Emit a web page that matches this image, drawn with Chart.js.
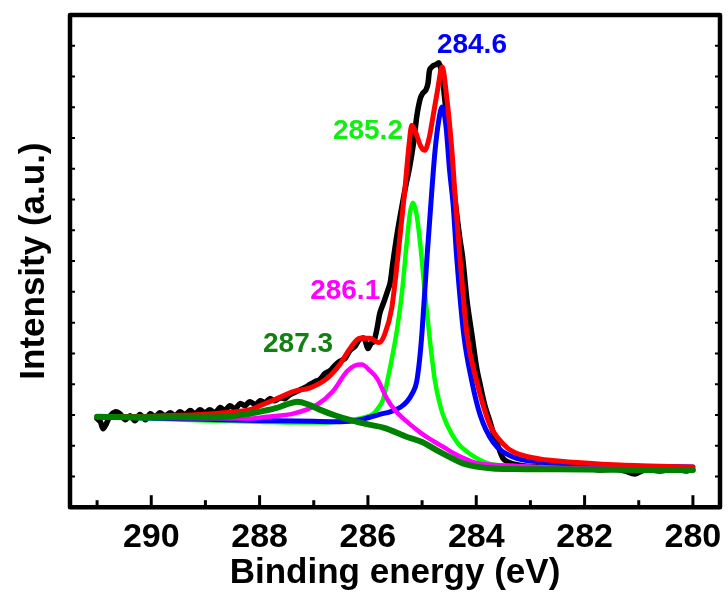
<!DOCTYPE html>
<html>
<head>
<meta charset="utf-8">
<script src="https://cdn.jsdelivr.net/npm/chart.js@4.4.1/dist/chart.umd.min.js"></script>
<style>
  html, body { margin: 0; padding: 0; background: #fff; }
  #wrap { width: 728px; height: 595px; }
</style>
</head>
<body>
<div id="wrap"><canvas id="xpsChart" width="728" height="595"></canvas></div>
<script>
// C 1s spectrum: binding energy (eV) and intensity (a.u.)

// raw measured spectrum (black, noisy)
const rawEnergy = [291.00, 290.94, 290.89, 290.83, 290.76, 290.67, 290.58, 290.48, 290.39, 290.30,
  290.21, 290.11, 290.02, 289.93, 289.84, 289.75, 289.65, 289.56, 289.47, 289.38,
  289.28, 289.19, 289.10, 289.01, 288.92, 288.82, 288.73, 288.64, 288.55, 288.45,
  288.36, 288.27, 288.18, 288.08, 287.99, 287.90, 287.81, 287.72, 287.62, 287.53,
  287.44, 287.35, 287.25, 287.16, 287.07, 286.98, 286.89, 286.79, 286.70, 286.61,
  286.52, 286.42, 286.33, 286.24, 286.15, 286.07, 286.00, 285.94, 285.89, 285.83,
  285.78, 285.70, 285.65, 285.59, 285.54, 285.46, 285.37, 285.30, 285.23, 285.15,
  285.10, 285.04, 284.99, 284.93, 284.89, 284.86, 284.80, 284.75, 284.69, 284.63,
  284.58, 284.52, 284.47, 284.39, 284.30, 284.25, 284.17, 284.08, 283.99, 283.93,
  283.84, 283.75, 283.69, 283.60, 283.51, 283.42, 283.32, 283.10, 282.83, 282.55,
  282.27, 281.99, 281.72, 281.44, 281.26, 281.07, 280.89, 280.61, 280.34, 280.11, 280.02];
const rawIntensity = [2.88, 2.78, 2.55, 2.71, 2.97, 3.10, 3.04, 2.84, 2.97, 2.81,
  3.01, 2.84, 3.04, 2.94, 3.07, 2.97, 3.07, 2.97, 3.10, 3.01,
  3.14, 3.04, 3.17, 3.07, 3.17, 3.07, 3.24, 3.14, 3.30, 3.20,
  3.37, 3.30, 3.43, 3.33, 3.46, 3.40, 3.53, 3.46, 3.56, 3.53,
  3.66, 3.73, 3.82, 3.89, 3.99, 4.08, 4.15, 4.35, 4.44, 4.61,
  4.74, 4.84, 5.10, 5.23, 5.46, 5.49, 5.16, 5.33, 5.39, 5.82,
  6.31, 6.70, 6.96, 7.29, 7.94, 8.89, 9.80, 10.46, 11.05, 11.93,
  12.68, 13.24, 13.45, 13.56, 13.79, 14.22, 14.35, 14.38, 14.44, 14.05,
  13.24, 12.42, 11.40, 9.97, 8.70, 8.10, 6.70, 5.60, 4.50, 4.00,
  3.30, 2.80, 2.45, 2.00, 1.60, 1.47, 1.41, 1.34, 1.31, 1.27,
  1.24, 1.27, 1.21, 1.24, 1.18, 1.08, 1.21, 1.18, 1.24, 1.18, 1.24];

// fitted envelope (red)
const envelopeEnergy = [291.0, 290.0, 289.1, 288.6, 288.18, 287.99, 287.68, 287.38, 287.07, 286.76,
  286.52, 286.33, 286.15, 285.96, 285.80, 285.69, 285.56, 285.45, 285.32, 285.24,
  285.19, 285.12, 285.03, 284.95, 284.87, 284.80, 284.71, 284.63, 284.54, 284.45,
  284.39, 284.30, 284.17, 283.99, 283.75, 283.50, 283.32, 282.83, 282.59, 281.35, 280.0];
const envelopeIntensity = [2.94, 2.96, 3.01, 3.08, 3.17, 3.30, 3.53, 3.76, 3.88, 4.18,
  4.64, 5.16, 5.49, 5.49, 5.35, 5.62, 6.47, 8.10, 10.29, 11.8,
  12.42, 12.2, 11.75, 11.60, 12.0, 12.68, 13.6, 14.31, 13.24, 11.60,
  10.1, 8.10, 5.60, 4.08, 2.68, 2.05, 1.80, 1.57, 1.52, 1.37, 1.31];

// component at 284.6 eV (blue)
const peak2846Energy = [291.0, 290.0, 289.0, 288.0, 287.0, 286.5, 286.15, 285.78, 285.59, 285.4,
  285.28, 285.18, 285.10, 285.04, 285.00, 284.91, 284.82, 284.76, 284.69, 284.63,
  284.56, 284.49, 284.43, 284.36, 284.23, 284.08, 283.93, 283.69, 283.32, 282.83, 281.96, 280.0];
const peak2846Intensity = [2.94, 2.90, 2.86, 2.82, 2.79, 2.78, 2.84, 3.02, 3.10, 3.25,
  3.43, 3.70, 4.08, 4.90, 5.72, 8.10, 10.29, 11.6, 12.6, 13.01,
  12.4, 10.9, 9.9, 8.10, 5.6, 4.08, 3.01, 2.12, 1.63, 1.47, 1.37, 1.31];

// component at 285.2 eV (light green)
const peak2852Energy = [291.0, 290.0, 289.0, 288.0, 287.3, 286.8, 286.4, 286.1, 285.9, 285.8,
  285.72, 285.63, 285.55, 285.46, 285.37, 285.28, 285.22, 285.17, 285.11, 285.04,
  284.95, 284.86, 284.76, 284.65, 284.54, 284.35, 284.17, 283.95, 283.75, 283.32, 282.5, 281.0, 280.0];
const peak2852Intensity = [2.94, 2.88, 2.82, 2.78, 2.75, 2.75, 2.82, 2.90, 3.04, 3.25,
  3.5, 4.2, 4.9, 5.8, 7.0, 8.66, 9.6, 9.9, 9.6, 8.66,
  7.0, 5.5, 4.08, 3.2, 2.68, 2.1, 1.8, 1.55, 1.41, 1.34, 1.28, 1.24, 1.22];

// component at 286.1 eV (magenta)
const peak2861Energy = [291.0, 290.0, 289.0, 288.18, 287.86, 287.38, 286.94, 286.65, 286.39, 286.25,
  286.11, 285.97, 285.83, 285.65, 285.50, 285.28, 285.05, 284.86, 284.60, 284.36,
  283.93, 283.32, 282.5, 281.0, 280.0];
const peak2861Intensity = [2.94, 2.91, 2.89, 2.88, 2.94, 3.04, 3.33, 3.76, 4.41, 4.60,
  4.64, 4.45, 4.18, 3.53, 3.15, 2.78, 2.45, 2.22, 1.95, 1.70,
  1.41, 1.35, 1.28, 1.23, 1.22];

// component at 287.3 eV (dark green)
const peak2873Energy = [291.0, 290.0, 289.0, 288.5, 288.2, 287.9, 287.7, 287.5, 287.3, 287.1,
  286.9, 286.6, 286.3, 286.0, 285.7, 285.3, 285.0, 284.7, 284.4, 284.2,
  284.0, 283.7, 283.3, 282.5, 281.0, 280.0];
const peak2873Intensity = [2.94, 2.92, 2.92, 2.96, 3.04, 3.14, 3.22, 3.34, 3.43, 3.34,
  3.18, 2.98, 2.82, 2.69, 2.58, 2.30, 2.12, 1.82, 1.55, 1.40,
  1.32, 1.26, 1.24, 1.23, 1.21, 1.21];

// axis ticks
const xTickValues = [280, 281, 282, 283, 284, 285, 286, 287, 288, 289, 290, 291];
const yTickValues = [1, 2, 3, 4, 5, 6, 7, 8, 9, 10, 11, 12, 13, 14, 15];

// peak position labels
const peakLabels = ['287.3', '286.1', '285.2', '284.6'];

const toPoints = (xs, ys) => xs.map((x, i) => ({ x: x, y: ys[i] }));

// Draws the box frame, the inward tick marks and the peak labels
const framePlugin = {
    id: 'framePlugin',
    afterDraw(chart, args, opts) {
        const { ctx, chartArea: a, scales: { x, y } } = chart;
        ctx.save();
        ctx.strokeStyle = '#000';
        ctx.lineCap = 'butt';

        // bottom ticks point up into the plot
        ctx.lineWidth = 3;
        xTickValues.forEach(v => {
            const px = x.getPixelForValue(v);
            const len = v % 2 === 0 ? 12 : 7;
            ctx.beginPath();
            ctx.moveTo(px, a.bottom);
            ctx.lineTo(px, a.bottom - len);
            ctx.stroke();
        });

        // left and right ticks
        ctx.lineWidth = 2;
        yTickValues.forEach(v => {
            const py = y.getPixelForValue(v);
            ctx.beginPath();
            ctx.moveTo(a.left, py);
            ctx.lineTo(a.left + 5, py);
            ctx.moveTo(a.right, py);
            ctx.lineTo(a.right - 5, py);
            ctx.stroke();
        });

        ctx.lineWidth = 4.5;
        ctx.lineJoin = 'round';
        ctx.strokeRect(a.left, a.top, a.width, a.height);

        // peak labels
        ctx.font = 'bold 28px "Liberation Sans", Arial, sans-serif';
        ctx.textAlign = 'center';
        ctx.textBaseline = 'middle';
        peakLabels.forEach((txt, i) => {
            const pos = opts.positions[i];
            ctx.fillStyle = opts.colors[i];
            ctx.fillText(txt, x.getPixelForValue(pos[0]), y.getPixelForValue(pos[1]));
        });
        ctx.restore();
    }
};

const ctx = document.getElementById('xpsChart').getContext('2d');

const xpsChart = new Chart(ctx, {
    type: 'line',
    data: {
        datasets: [
            {
                label: '287.3',
                data: toPoints(peak2873Energy, peak2873Intensity),
                borderColor: '#008000',
                borderWidth: 6,
                cubicInterpolationMode: 'monotone',
                order: 1
            },
            {
                label: '286.1',
                data: toPoints(peak2861Energy, peak2861Intensity),
                borderColor: '#ff00ff',
                borderWidth: 4.5,
                cubicInterpolationMode: 'monotone',
                order: 2
            },
            {
                label: 'Fit',
                data: toPoints(envelopeEnergy, envelopeIntensity),
                borderColor: '#ff0000',
                borderWidth: 5,
                cubicInterpolationMode: 'monotone',
                order: 3
            },
            {
                label: '284.6',
                data: toPoints(peak2846Energy, peak2846Intensity),
                borderColor: '#0000ff',
                borderWidth: 5,
                cubicInterpolationMode: 'monotone',
                order: 4
            },
            {
                label: '285.2',
                data: toPoints(peak2852Energy, peak2852Intensity),
                borderColor: '#00ff00',
                borderWidth: 4.5,
                cubicInterpolationMode: 'monotone',
                order: 5
            },
            {
                label: 'Raw',
                data: toPoints(rawEnergy, rawIntensity),
                borderColor: '#000000',
                borderWidth: 5.5,
                tension: 0.3,
                order: 6
            }
        ]
    },
    options: {
        responsive: false,
        devicePixelRatio: 1,
        animation: false,
        layout: {
            padding: { left: 9, right: 8, top: 15, bottom: 0 }
        },
        elements: {
            point: { radius: 0 },
            line: { borderJoinStyle: 'round', borderCapStyle: 'round', fill: false }
        },
        scales: {
            x: {
                type: 'linear',
                reverse: true,
                min: 279.5,
                max: 291.5,
                afterBuildTicks: scale => {
                    scale.ticks = xTickValues.map(v => ({ value: v }));
                },
                border: { display: false },
                grid: { drawOnChartArea: false, drawTicks: false },
                ticks: {
                    padding: 10,
                    color: '#000',
                    maxRotation: 0,
                    autoSkip: false,
                    font: { family: '"Liberation Sans", Arial, sans-serif', size: 34, weight: 'bold' },
                    callback: value => (value % 2 === 0 ? String(value) : '')
                },
                title: {
                    display: true,
                    text: 'Binding energy (eV)',
                    color: '#000',
                    padding: { top: -12, bottom: 4 },
                    font: { family: '"Liberation Sans", Arial, sans-serif', size: 35, weight: 'bold', lineHeight: 1.0 }
                }
            },
            y: {
                min: 0,
                max: 16,
                border: { display: false },
                grid: { drawOnChartArea: false, drawTicks: false },
                ticks: { display: false, stepSize: 1 },
                title: {
                    display: true,
                    text: 'Intensity (a.u.)',
                    color: '#000',
                    padding: { top: 4, bottom: 15 },
                    font: { family: '"Liberation Sans", Arial, sans-serif', size: 35, weight: 'bold' }
                }
            }
        },
        plugins: {
            legend: { display: false },
            tooltip: { enabled: false },
            framePlugin: {
                positions: [[287.29, 5.29], [286.42, 7.03], [286.0, 12.22], [284.08, 15.0]],
                colors: ['#138013', '#ff00ff', '#11ee11', '#0000ff']
            }
        }
    },
    plugins: [framePlugin]
});
</script>
</body>
</html>
